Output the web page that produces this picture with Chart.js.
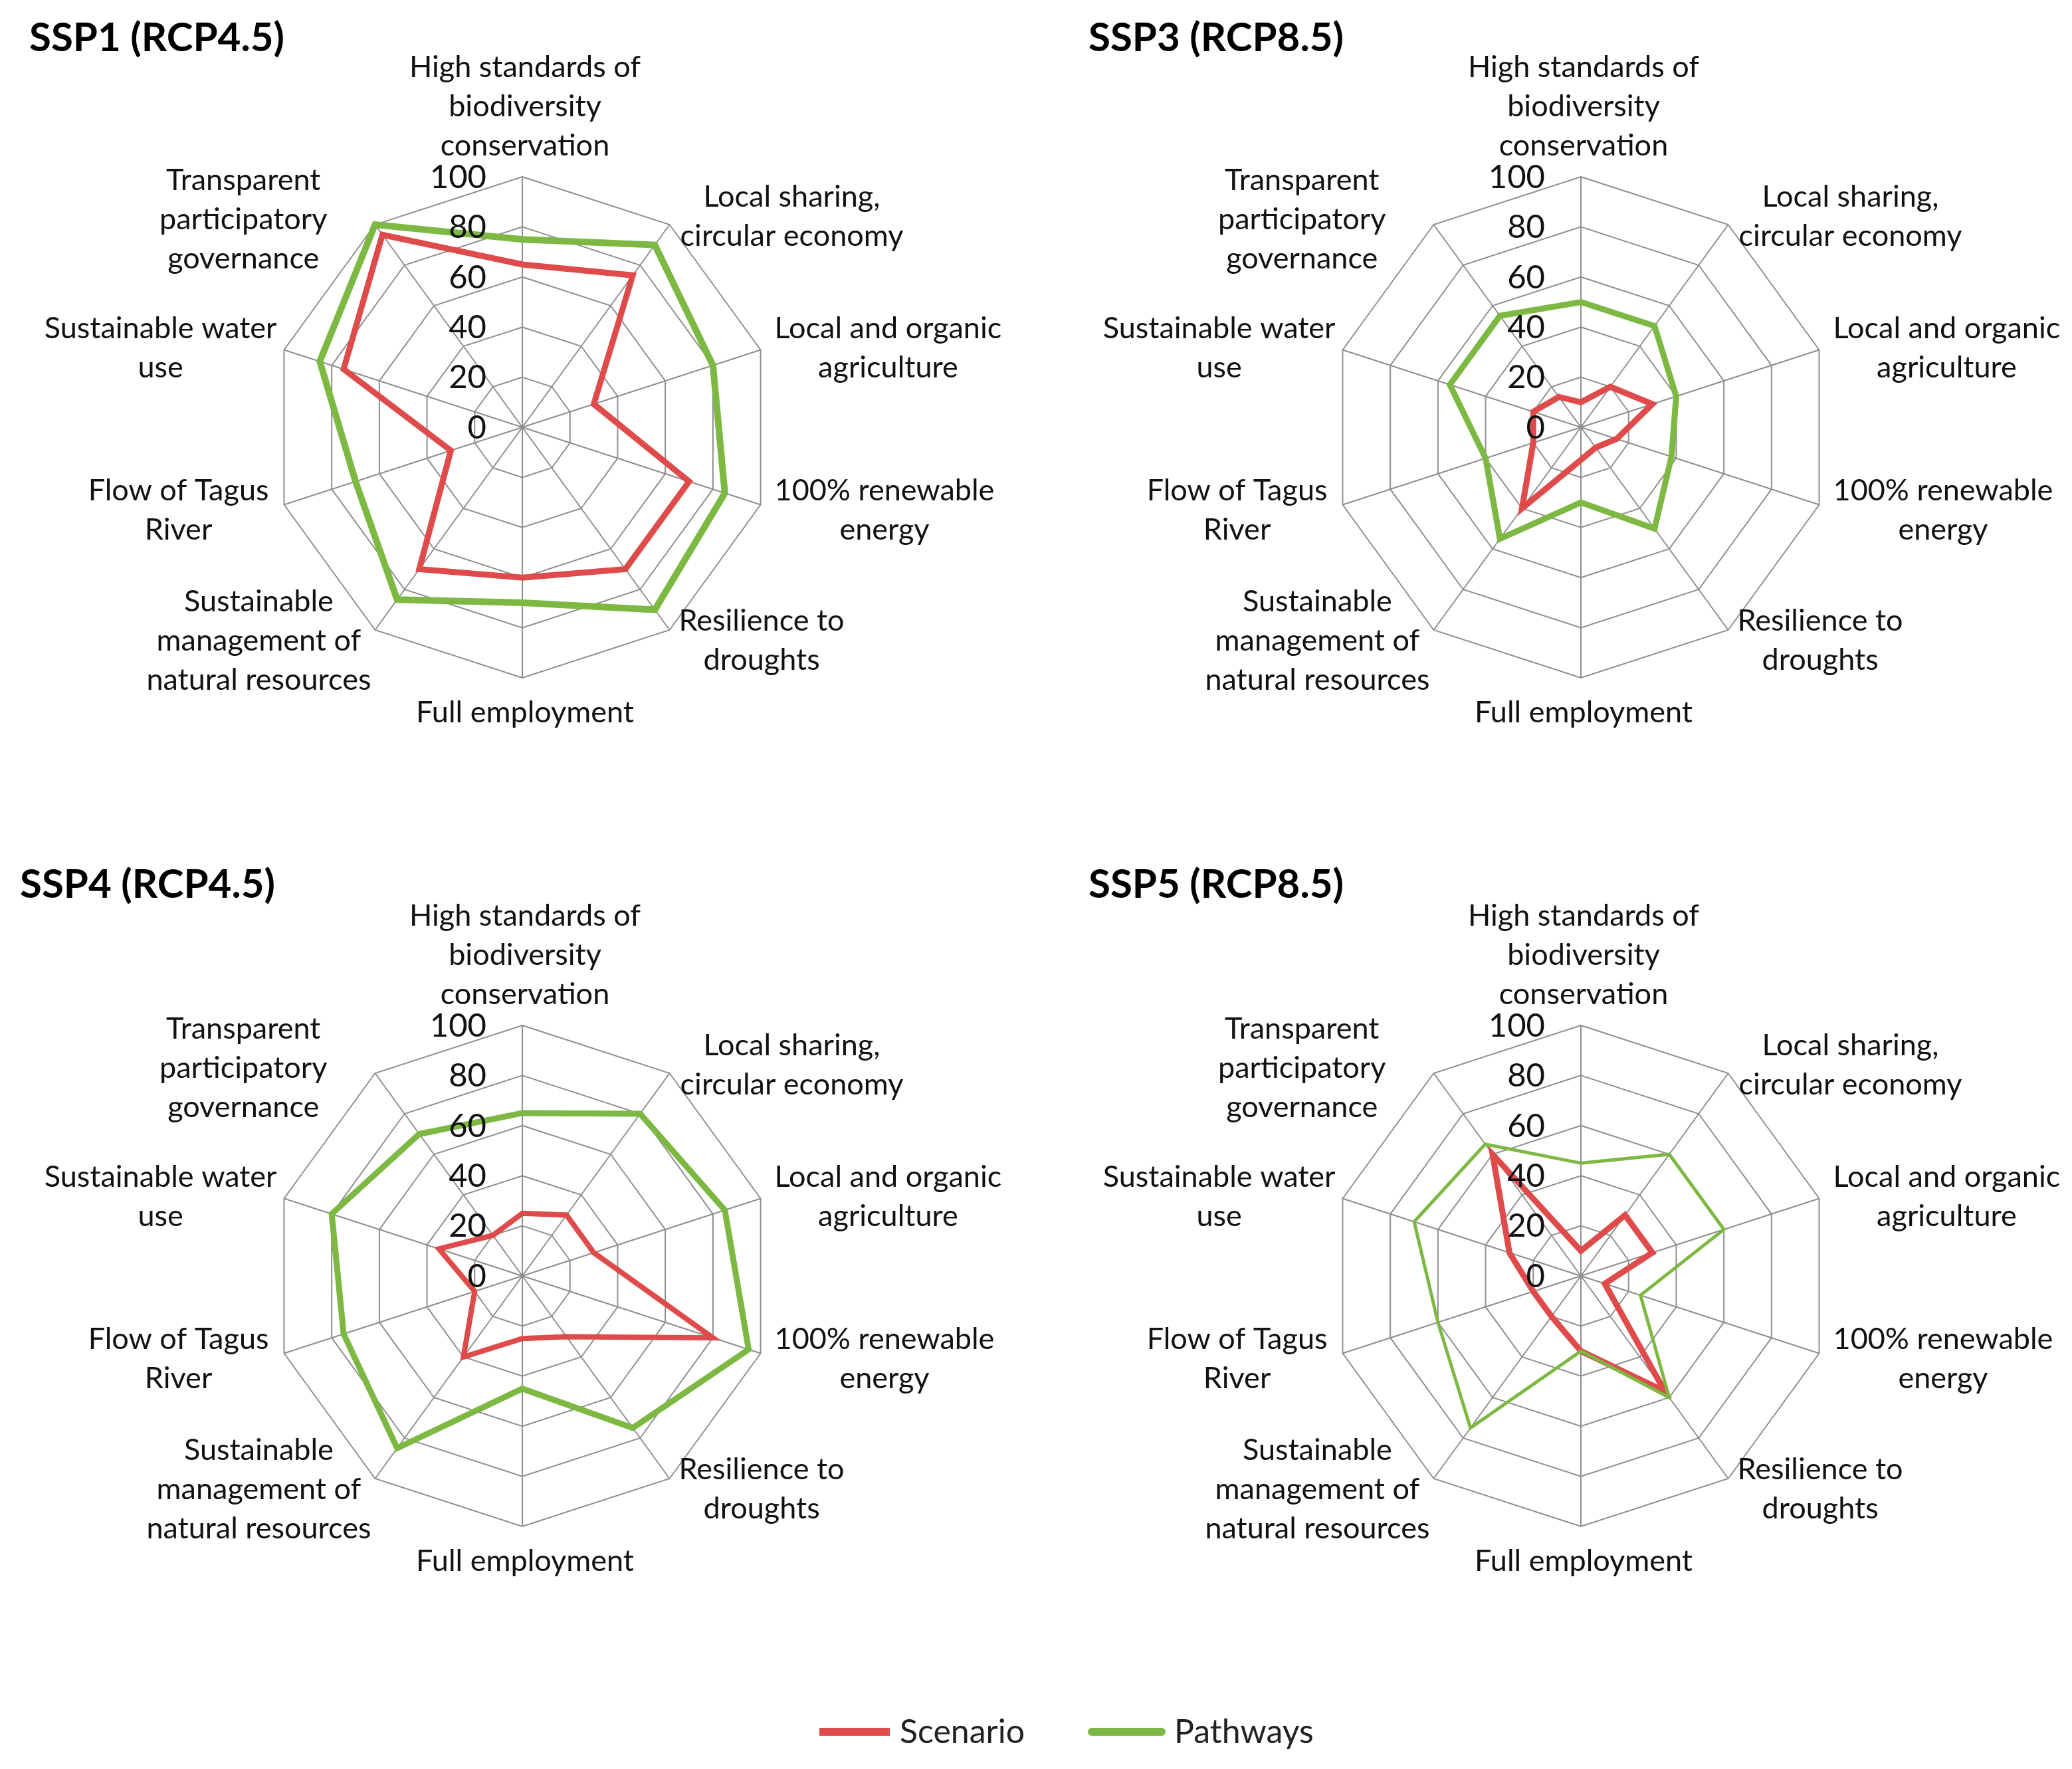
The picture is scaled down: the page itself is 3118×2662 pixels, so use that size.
<!DOCTYPE html>
<html>
<head>
<meta charset="utf-8">
<script src="https://cdn.jsdelivr.net/npm/chart.js@4.4.1/dist/chart.umd.min.js"></script>
<style>
  html, body { margin:0; padding:0; background:#fff; width:3118px; height:2662px; overflow:hidden; }
  canvas { position:absolute; }
  .sw { position:absolute; height:12px; }
  .lt { position:absolute; font-family: Lato, "Open Sans", sans-serif; font-size:50px; line-height:60px; color:#222; white-space:nowrap; }
</style>
</head>
<body>
<canvas id="c1" width="1559" height="1240" style="left:0px;top:0px"></canvas>
<canvas id="c2" width="1559" height="1240" style="left:1559px;top:0px"></canvas>
<canvas id="c3" width="1559" height="1240" style="left:0px;top:1277px"></canvas>
<canvas id="c4" width="1559" height="1240" style="left:1559px;top:1277px"></canvas>

<div id="legend">
  <div class="sw" style="left:1233px;top:2600px;width:106px;background:#DF4A4A;"></div>
  <div class="lt" id="lg0" style="left:1354px;top:2574px;"></div>
  <div class="sw" style="left:1637px;top:2600px;width:117px;background:#7DB842;border-radius:6px;"></div>
  <div class="lt" id="lg1" style="left:1767px;top:2574px;"></div>
</div>

<script>
// ---------------- DATA ----------------
const categories = [
  ["High standards of", "biodiversity", "conservation"],
  ["Local sharing,", "circular economy"],
  ["Local and organic", "agriculture"],
  ["100% renewable", "energy"],
  ["Resilience to", "droughts"],
  ["Full employment"],
  ["Sustainable", "management of", "natural resources"],
  ["Flow of Tagus", "River"],
  ["Sustainable water", "use"],
  ["Transparent", "participatory", "governance"]
];
const panelTitles = ["SSP1 (RCP4.5)", "SSP3 (RCP8.5)", "SSP4 (RCP4.5)", "SSP5 (RCP8.5)"];
const seriesNames = ["Scenario", "Pathways"];
const tickValues = [0, 20, 40, 60, 80, 100];

const ssp1Scenario = [65, 75, 30, 70, 70, 60, 70, 30, 75, 95];
const ssp1Pathways = [75, 90, 80, 85, 90, 70, 85, 70, 85, 100];
const ssp3Scenario = [10, 20, 30, 15, 10, 13, 40, 20, 20, 15];
const ssp3Pathways = [50, 50, 40, 38, 50, 30, 55, 40, 55, 55];
const ssp4Scenario = [25, 30, 30, 80, 30, 25, 40, 20, 35, 20];
const ssp4Pathways = [65, 80, 85, 95, 75, 45, 85, 75, 80, 70];
const ssp5Scenario = [10, 30, 30, 10, 57, 30, 20, 20, 30, 60];
const ssp5Pathways = [45, 60, 60, 25, 60, 30, 75, 60, 70, 65];

// ---------------- STYLE ----------------
const FONT = 'Lato, "Open Sans", sans-serif';
const RED = '#DF4A4A';
const GREEN = '#7DB842';
const GRID = '#8E8E8E';
const RADIUS = 377;
const LINE_H = 59;
// label block placement relative to the outer vertex of each spoke
const LABEL_SIDE = [0, 1, 1, 1, 1, 0, -1, -1, -1, -1];
const LABEL_DX = [4, 16, 21, 21, 14, 4, -6, -23, -11, -72];
const LABEL_DY = [-106, -12, -3, 8, 16, 52, 16, 8, -3, -8];

document.getElementById('lg0').textContent = seriesNames[0];
document.getElementById('lg1').textContent = seriesNames[1];

const radarText = {
  id: 'radarText',
  afterDatasetsDraw(chart, args, opts) {
    const s = chart.scales.r;
    const ctx = chart.ctx;
    ctx.save();
    ctx.fillStyle = '#111';
    ctx.font = '49px ' + FONT;
    ctx.textAlign = 'right';
    ctx.textBaseline = 'middle';
    tickValues.forEach(v => {
      const d = s.getDistanceFromCenterForValue(v);
      ctx.fillText(String(v), s.xCenter - 54, s.yCenter - d + 1);
    });
    ctx.restore();
  },
  afterDraw(chart, args, opts) {
    const s = chart.scales.r;
    const ctx = chart.ctx;
    ctx.save();
    ctx.fillStyle = '#111';
    ctx.font = '45px ' + FONT;
    ctx.textAlign = 'center';
    ctx.textBaseline = 'middle';
    categories.forEach((lines, i) => {
      const p = s.getPointPosition(i, s.drawingArea);
      const w = Math.max(...lines.map(t => ctx.measureText(t).width));
      let bx = p.x + LABEL_DX[i];
      if (LABEL_SIDE[i] === 1) bx += w / 2;
      else if (LABEL_SIDE[i] === -1) bx -= w / 2;
      const by = p.y + LABEL_DY[i];
      const n = lines.length;
      lines.forEach((t, k) => ctx.fillText(t, bx, by + (k - (n - 1) / 2) * LINE_H));
    });
    ctx.font = 'bold 60px ' + FONT;
    ctx.fillStyle = '#000';
    ctx.textAlign = 'left';
    ctx.textBaseline = 'alphabetic';
    ctx.fillText(opts.text, opts.x, opts.y);
    ctx.restore();
  }
};

function makeChart(id, title, scen, path, cx, cy, tx, ty, wScen, wPath) {
  new Chart(document.getElementById(id), {
    type: 'radar',
    data: {
      labels: categories,
      datasets: [
        { label: seriesNames[0], data: scen, borderColor: RED, backgroundColor: RED,
          borderWidth: wScen, pointRadius: 0, fill: false, order: 1 },
        { label: seriesNames[1], data: path, borderColor: GREEN, backgroundColor: GREEN,
          borderWidth: wPath, pointRadius: 0, fill: false, order: 0 }
      ]
    },
    options: {
      responsive: false,
      animation: false,
      devicePixelRatio: 1,
      layout: { padding: 0 },
      elements: { line: { tension: 0, borderJoinStyle: 'miter' } },
      plugins: {
        legend: { display: false },
        tooltip: { enabled: false },
        title: { display: false },
        radarText: { text: title, x: tx, y: ty }
      },
      scales: {
        r: {
          min: 0, max: 100,
          ticks: { stepSize: 20, display: false },
          grid: { color: GRID, lineWidth: 2 },
          angleLines: { color: GRID, lineWidth: 2 },
          pointLabels: { display: false },
          afterFit: (sc) => { sc.xCenter = cx; sc.yCenter = cy; sc.drawingArea = RADIUS; }
        }
      }
    },
    plugins: [radarText]
  });
}

makeChart('c1', panelTitles[0], ssp1Scenario, ssp1Pathways, 786, 643, 44, 77, 9, 10);
makeChart('c2', panelTitles[1], ssp3Scenario, ssp3Pathways, 820, 643, 79, 77, 9, 9);
makeChart('c3', panelTitles[2], ssp4Scenario, ssp4Pathways, 786, 643, 30, 74, 8, 9);
makeChart('c4', panelTitles[3], ssp5Scenario, ssp5Pathways, 820, 643, 79, 74, 9, 5);
</script>
</body>
</html>
